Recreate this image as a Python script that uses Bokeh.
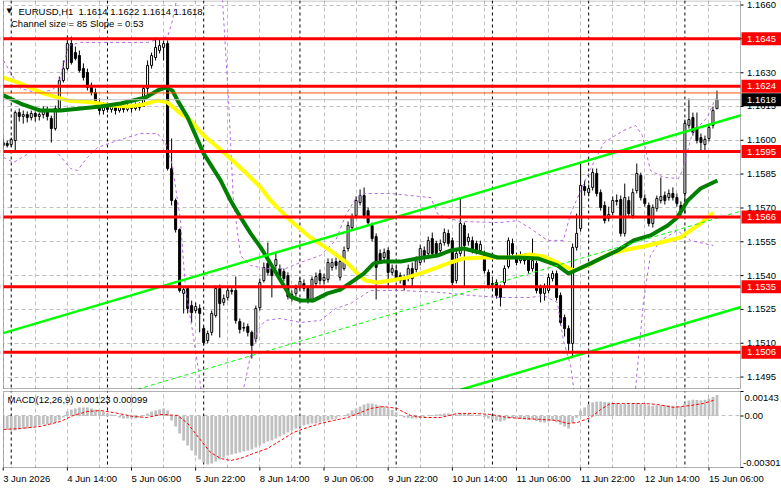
from bokeh.plotting import figure
from bokeh.models import Range1d, Label, Span, FixedTicker, ColumnDataSource, BoxAnnotation
from bokeh.layouts import column
from bokeh.embed import file_html
from bokeh.resources import INLINE

# ---------------- data (EURUSD H1, bar index 0 = 3 Jun 22:00) ----------------
opens = [1.15990,1.15986,1.15981,1.15999,1.16123,1.16106,1.16114,1.16101,1.16119,1.16106,
1.16114,1.16132,1.16097,1.16052,1.16141,1.16265,1.16318,1.16429,1.16389,1.16376,
1.16318,1.16301,1.16239,1.16212,1.16168,1.16132,1.16150,1.16137,1.16150,1.16132,
1.16145,1.16137,1.16150,1.16141,1.16154,1.16150,1.16230,1.16332,1.16367,1.16398,
1.16412,1.16429,1.15875,1.15733,1.15604,1.15321,1.15343,1.15267,1.15245,1.15254,
1.15165,1.15112,1.15148,1.15223,1.15343,1.15281,1.15303,1.15334,1.15334,1.15196,
1.15170,1.15174,1.15148,1.15121,1.15258,1.15378,1.15454,1.15431,1.15445,1.15431,
1.15418,1.15400,1.15303,1.15321,1.15352,1.15365,1.15343,1.15289,1.15365,1.15409,
1.15378,1.15383,1.15436,1.15462,1.15392,1.15431,1.15520,1.15613,1.15666,1.15724,
1.15755,1.15688,1.15622,1.15573,1.15498,1.15480,1.15511,1.15414,1.15422,1.15400,
1.15392,1.15387,1.15431,1.15427,1.15458,1.15511,1.15498,1.15564,1.15542,1.15511,
1.15547,1.15587,1.15555,1.15378,1.15498,1.15622,1.15551,1.15555,1.15542,1.15511,
1.15498,1.15414,1.15365,1.15369,1.15347,1.15369,1.15440,1.15542,1.15489,1.15466,
1.15480,1.15480,1.15431,1.15454,1.15347,1.15321,1.15334,1.15387,1.15409,1.15312,
1.15214,1.15165,1.15099,1.15525,1.15609,1.15795,1.15768,1.15791,1.15853,1.15768,
1.15711,1.15653,1.15680,1.15733,1.15737,1.15587,1.15733,1.15666,1.15777,1.15844,
1.15742,1.15711,1.15631,1.15698,1.15733,1.15755,1.15746,1.15764,1.15746,1.15711,
1.15764,1.16066,1.16101,1.16057,1.16012,1.15981,1.16008,1.16066,1.16140]
highs = [1.16008,1.15999,1.16012,1.16132,1.16141,1.16132,1.16128,1.16132,1.16128,1.16123,
1.16150,1.16150,1.16110,1.16154,1.16283,1.16354,1.16465,1.16460,1.16416,1.16398,
1.16341,1.16318,1.16256,1.16230,1.16185,1.16168,1.16163,1.16163,1.16159,1.16163,
1.16159,1.16163,1.16163,1.16168,1.16168,1.16243,1.16354,1.16389,1.16456,1.16451,
1.16443,1.16443,1.16008,1.15742,1.15609,1.15352,1.15352,1.15289,1.15281,1.15272,
1.15174,1.15156,1.15245,1.15356,1.15360,1.15316,1.15352,1.15352,1.15396,1.15210,
1.15192,1.15187,1.15156,1.15267,1.15387,1.15458,1.15547,1.15445,1.15502,1.15449,
1.15431,1.15414,1.15334,1.15360,1.15391,1.15383,1.15356,1.15396,1.15414,1.15427,
1.15409,1.15476,1.15476,1.15480,1.15480,1.15529,1.15640,1.15675,1.15751,1.15782,
1.15791,1.15702,1.15635,1.15587,1.15516,1.15520,1.15525,1.15449,1.15440,1.15414,
1.15405,1.15449,1.15458,1.15485,1.15538,1.15529,1.15573,1.15591,1.15555,1.15560,
1.15609,1.15604,1.15569,1.15511,1.15742,1.15635,1.15587,1.15573,1.15555,1.15555,
1.15511,1.15427,1.15383,1.15383,1.15360,1.15445,1.15569,1.15564,1.15502,1.15507,
1.15498,1.15494,1.15564,1.15466,1.15360,1.15365,1.15409,1.15422,1.15422,1.15325,
1.15227,1.15179,1.15542,1.15675,1.15902,1.15821,1.15804,1.15875,1.15875,1.15782,
1.15729,1.15706,1.15751,1.15760,1.15755,1.15808,1.15751,1.15786,1.15897,1.15857,
1.15760,1.15724,1.15715,1.15755,1.15835,1.15773,1.15782,1.15791,1.15764,1.15729,
1.16092,1.16185,1.16123,1.16123,1.16030,1.16021,1.16070,1.16150,1.16220]
lows = [1.15964,1.15968,1.15972,1.15955,1.16083,1.16074,1.16079,1.16088,1.16083,1.16088,
1.16097,1.16088,1.15990,1.16043,1.16132,1.16256,1.16310,1.16336,1.16354,1.16301,
1.16265,1.16221,1.16199,1.16150,1.16114,1.16114,1.16123,1.16123,1.16114,1.16123,
1.16123,1.16128,1.16123,1.16132,1.16132,1.16150,1.16199,1.16318,1.16354,1.16385,
1.16354,1.15866,1.15711,1.15591,1.15325,1.15232,1.15232,1.15192,1.15232,1.15148,
1.15090,1.15099,1.15134,1.15214,1.15125,1.15267,1.15289,1.15316,1.15187,1.15143,
1.15152,1.15130,1.15032,1.15103,1.15245,1.15369,1.15400,1.15303,1.15431,1.15383,
1.15374,1.15294,1.15285,1.15307,1.15338,1.15330,1.15276,1.15281,1.15352,1.15360,
1.15360,1.15369,1.15422,1.15427,1.15378,1.15422,1.15507,1.15600,1.15653,1.15711,
1.15653,1.15622,1.15551,1.15294,1.15454,1.15466,1.15347,1.15400,1.15374,1.15365,
1.15334,1.15374,1.15352,1.15414,1.15445,1.15458,1.15485,1.15485,1.15485,1.15498,
1.15533,1.15529,1.15356,1.15365,1.15485,1.15347,1.15533,1.15498,1.15494,1.15498,
1.15409,1.15343,1.15343,1.15298,1.15263,1.15356,1.15431,1.15485,1.15445,1.15454,
1.15449,1.15409,1.15418,1.15321,1.15281,1.15289,1.15321,1.15374,1.15289,1.15179,
1.15130,1.15067,1.15040,1.15511,1.15595,1.15755,1.15751,1.15777,1.15751,1.15688,
1.15631,1.15640,1.15666,1.15711,1.15573,1.15573,1.15662,1.15653,1.15764,1.15733,
1.15706,1.15618,1.15613,1.15684,1.15720,1.15715,1.15733,1.15733,1.15706,1.15658,
1.15675,1.16052,1.16021,1.15986,1.15955,1.15955,1.15995,1.16052,1.16140]
closes = [1.15977,1.15977,1.16004,1.16123,1.16106,1.16114,1.16101,1.16119,1.16106,1.16114,
1.16132,1.16106,1.16052,1.16141,1.16265,1.16318,1.16429,1.16345,1.16363,1.16310,
1.16279,1.16234,1.16212,1.16163,1.16132,1.16150,1.16137,1.16150,1.16132,1.16145,
1.16137,1.16150,1.16141,1.16154,1.16145,1.16230,1.16332,1.16376,1.16412,1.16420,
1.16429,1.15875,1.15733,1.15604,1.15334,1.15338,1.15254,1.15236,1.15263,1.15232,
1.15103,1.15143,1.15232,1.15343,1.15276,1.15298,1.15334,1.15330,1.15201,1.15161,
1.15167,1.15148,1.15090,1.15254,1.15369,1.15436,1.15414,1.15400,1.15471,1.15396,
1.15387,1.15307,1.15316,1.15343,1.15374,1.15343,1.15289,1.15383,1.15396,1.15378,
1.15392,1.15458,1.15458,1.15445,1.15462,1.15511,1.15622,1.15658,1.15733,1.15755,
1.15666,1.15635,1.15564,1.15436,1.15466,1.15502,1.15414,1.15431,1.15387,1.15378,
1.15347,1.15431,1.15387,1.15466,1.15520,1.15476,1.15555,1.15498,1.15498,1.15542,
1.15591,1.15542,1.15369,1.15498,1.15631,1.15533,1.15569,1.15511,1.15511,1.15538,
1.15422,1.15356,1.15360,1.15312,1.15303,1.15431,1.15555,1.15498,1.15458,1.15489,
1.15466,1.15422,1.15466,1.15334,1.15321,1.15347,1.15392,1.15409,1.15303,1.15192,
1.15165,1.15099,1.15525,1.15587,1.15800,1.15777,1.15786,1.15857,1.15764,1.15702,
1.15644,1.15671,1.15733,1.15729,1.15587,1.15746,1.15675,1.15768,1.15853,1.15746,
1.15720,1.15631,1.15702,1.15742,1.15751,1.15733,1.15764,1.15746,1.15720,1.15680,
1.16075,1.16092,1.16035,1.15999,1.15990,1.16004,1.16057,1.16132,1.16180]

# moving averages (bar index, price)
ma_slow_x = [0.07,4.3,10.0,16.0,22.5,26.8,31.0,35.0,38.5,41.0,44.2,46.7,50.0,55.0,59.9,64.2,66.7,71.6,76.6,81.6,
             85.9,88.4,90.3,93.3,96.6,100.8,104.8,108.3,111.5,114.8,119.8,123.3,126.5,129.8,131.5,134.7,138.2,
             140.7,142.2,145.7,151.4,155.7,159.7,163.9,168.9,173.9,177.1]
ma_slow_y = [1.16278,1.16252,1.16208,1.16177,1.16168,1.16154,1.16150,1.16159,1.16177,1.16168,1.16119,1.16088,
             1.16021,1.15946,1.15866,1.15791,1.15733,1.15644,1.15569,1.15511,1.15454,1.15409,1.15378,1.15369,
             1.15378,1.15392,1.15414,1.15436,1.15458,1.15476,1.15480,1.15480,1.15480,1.15489,1.15494,1.15485,
             1.15458,1.15436,1.15422,1.15445,1.15498,1.15516,1.15529,1.15547,1.15569,1.15631,1.15680]
ma_fast_x = [0.07,4.3,9.3,14.3,19.3,24.3,29.3,35.5,38.5,40.5,42.2,43.5,46.0,50.0,54.2,56.7,59.2,61.7,64.2,65.9,
             69.2,71.6,74.1,77.4,80.9,84.1,87.4,89.9,92.4,94.8,99.1,103.3,108.3,111.5,114.8,119.8,123.3,128.3,
             133.3,138.2,141.0,143.2,146.5,149.0,153.2,157.2,161.4,165.7,168.1,170.7,173.9,178.1]
ma_fast_y = [1.16199,1.16163,1.16132,1.16132,1.16141,1.16150,1.16163,1.16190,1.16221,1.16234,1.16221,1.16176,
             1.16101,1.15941,1.15822,1.15733,1.15658,1.15587,1.15525,1.15476,1.15378,1.15307,1.15290,1.15290,
             1.15321,1.15338,1.15378,1.15409,1.15454,1.15462,1.15462,1.15476,1.15489,1.15511,1.15520,1.15498,
             1.15480,1.15480,1.15476,1.15445,1.15409,1.15427,1.15454,1.15476,1.15511,1.15556,1.15578,1.15622,
             1.15658,1.15733,1.15786,1.15822]

# bands (purple dashed)
band_up_x = [0.07,2.3,4.3,8.1,11.8,13.8,15.0,16.3,19.3,24.3,29.3,36.0,39.2,41.0,42.2,43.2,44.2,52.9,54.7,56.2,
             57.4,59.2,61.7,65.4,70.4,74.1,79.1,82.9,85.4,87.9,89.9,96.6,106.6,108.3,110.3,114.0,124.0,128.3,
             131.5,135.7,139.7,141.5,144.0,146.5,149.7,151.4,154.7,157.7,159.4,161.4,164.7,168.4,169.4,171.9,
             175.6,177.6]
band_up_y = [1.16354,1.16287,1.16230,1.16212,1.16221,1.16243,1.16332,1.16420,1.16434,1.16434,1.16434,1.16434,
             1.16451,1.16460,1.16531,1.16620,1.16797,1.16797,1.16620,1.16176,1.15733,1.15489,1.15445,1.15431,
             1.15431,1.15458,1.15489,1.15556,1.15667,1.15742,1.15764,1.15764,1.15746,1.15675,1.15658,1.15640,
             1.15635,1.15644,1.15609,1.15556,1.15556,1.15675,1.15777,1.15875,1.15986,1.16008,1.16043,1.16066,
             1.16021,1.15866,1.15835,1.15831,1.15866,1.16035,1.16101,1.16185]
band_lo_x = [0.07,2.6,7.6,13.5,16.8,18.5,21.0,23.5,28.5,34.2,38.5,40.5,42.2,44.2,45.5,47.2,48.7,49.7,59.2,60.4,
             61.7,63.4,65.4,69.2,74.1,79.1,82.9,86.6,91.6,99.1,109.1,116.5,124.0,131.5,134.7,138.2,139.7,141.5,
             142.7,155.2,157.7,159.7,161.4,163.9,168.1,171.4,177.1]
band_lo_y = [1.15924,1.15902,1.15955,1.15946,1.15875,1.15866,1.15924,1.15968,1.15999,1.16030,1.16030,1.15986,
             1.15888,1.15644,1.15334,1.15156,1.14979,1.14846,1.14846,1.14935,1.15046,1.15156,1.15201,1.15210,
             1.15192,1.15201,1.15254,1.15276,1.15334,1.15334,1.15325,1.15312,1.15303,1.15303,1.15312,1.15281,
             1.15112,1.15001,1.14846,1.14846,1.14899,1.15290,1.15489,1.15556,1.15600,1.15556,1.15533]

# regression channel
channel_x = [0, 184]
channel_upper = [1.15145, 1.16111]
channel_size = 0.0085

# horizontal levels
levels = [1.1645, 1.1624, 1.1595, 1.1566, 1.1535, 1.1506]
bid, ask = 1.1618, 1.1621
price_ticks = [1.1660, 1.1645, 1.1630, 1.1615, 1.1600, 1.1585, 1.1570, 1.1555, 1.1540, 1.1525, 1.1510, 1.1495]

# MACD(12,26,9)
macd_hist = [
-0.00073,-0.00079,-0.00085,-0.00085,-0.00079,-0.00073,-0.00073,-0.00067,-0.00061,-0.00056,
-0.00050,-0.00050,-0.00044,-0.00038,-0.00026,-0.00009,0.00026,0.00038,0.00044,0.00050,
0.00050,0.00050,0.00044,0.00038,0.00032,0.00026,0.00015,0.00009,0.00003,-0.00009,
-0.00015,-0.00015,-0.00015,-0.00015,-0.00009,0.00003,0.00015,0.00026,0.00032,0.00038,
0.00044,0.00032,-0.00026,-0.00061,-0.00102,-0.00143,-0.00172,-0.00202,-0.00231,-0.00254,
-0.00272,-0.00283,-0.00278,-0.00266,-0.00254,-0.00242,-0.00231,-0.00225,-0.00219,-0.00213,
-0.00207,-0.00202,-0.00196,-0.00184,-0.00172,-0.00161,-0.00149,-0.00143,-0.00131,-0.00120,
-0.00108,-0.00096,-0.00085,-0.00073,-0.00061,-0.00056,-0.00050,-0.00044,-0.00044,-0.00038,
-0.00032,-0.00026,-0.00020,-0.00015,-0.00003,0.00003,0.00015,0.00032,0.00044,0.00055,
0.00067,0.00073,0.00073,0.00067,0.00061,0.00055,0.00045,0.00035,0.00022,0.00005,
-0.00009,-0.00012,-0.00015,-0.00015,-0.00012,-0.00006,0.00003,0.00006,0.00009,0.00012,
0.00015,0.00015,0.00012,0.00009,0.00012,0.00012,0.00012,0.00009,0.00006,0.00003,
-0.00006,-0.00015,-0.00022,-0.00028,-0.00032,-0.00026,-0.00015,-0.00012,-0.00015,-0.00017,
-0.00020,-0.00024,-0.00022,-0.00030,-0.00036,-0.00038,-0.00032,-0.00030,-0.00036,-0.00050,
-0.00062,-0.00073,-0.00040,-0.00010,0.00030,0.00050,0.00068,0.00080,0.00085,0.00085,
0.00082,0.00080,0.00078,0.00075,0.00068,0.00070,0.00068,0.00070,0.00075,0.00072,
0.00068,0.00062,0.00060,0.00062,0.00063,0.00062,0.00062,0.00060,0.00058,0.00055,
0.00075,0.00090,0.00095,0.00093,0.00092,0.00095,0.00102,0.00112,0.00123]
signal_x = [0.07,4.3,9.3,14.3,17.5,21.0,24.3,27.5,32.5,36.0,39.2,43.5,46.0,49.3,51.7,54.2,56.7,59.2,62.4,65.9,
            69.2,72.4,75.9,79.1,82.4,85.9,89.1,91.6,94.8,98.3,99.1,101.6,104.8,109.1,113.3,117.3,121.5,125.8,
            129.8,134.0,138.2,140.7,143.2,146.5,149.0,151.4,154.7,159.7,163.2,167.2,171.4,174.6,177.1,177.6]
signal_y = [-0.00079,-0.00073,-0.00061,-0.00032,0.00003,0.00026,0.00032,0.00020,-0.00003,-0.00009,0.00009,
            0.00003,-0.00044,-0.00143,-0.00213,-0.00248,-0.00260,-0.00248,-0.00219,-0.00190,-0.00143,-0.00096,
            -0.00067,-0.00044,-0.00026,-0.00009,0.00020,0.00044,0.00055,0.00044,0.00032,0.00003,-0.00009,
            -0.00009,0.00015,0.00015,0.00009,-0.00009,-0.00015,-0.00020,-0.00026,-0.00044,-0.00038,-0.00009,
            0.00038,0.00073,0.00073,0.00073,0.00067,0.00050,0.00061,0.00073,0.00091,0.00099]
macd_min, macd_max = -0.00301, 0.00143
macd_ticks = [0.00143, 0.0, -0.00301]

# time axis
tick_idx = [0, 16, 32, 48, 64, 80, 96, 112, 128, 144, 160, 176]
tick_labels = ["3 Jun 2026", "4 Jun 14:00", "5 Jun 06:00", "5 Jun 22:00", "8 Jun 14:00", "9 Jun 06:00",
               "9 Jun 22:00", "10 Jun 14:00", "11 Jun 06:00", "11 Jun 22:00", "12 Jun 14:00", "15 Jun 06:00"]
day_starts = [2, 26, 50, 74, 98, 122, 146, 170]

# ---------------- geometry helpers (pixel <-> data) ----------------
BAR_PX = 4.01
def px_to_idx(px):
    return (px - 2.7) / BAR_PX

PRICE_PX = 0.00004435
def py_to_price(py):
    return 1.16620 - py * PRICE_PX

MPX = (macd_max - macd_min) / 76.0          # MACD units per pixel
def my_to_val(local_py):                      # local y inside the MACD figure (0 = its top)
    return macd_max - (local_py - 2) * MPX

PANEL_L, PANEL_R = px_to_idx(3), px_to_idx(740)
FONT = "Liberation Sans"
FS = "9.5px"
GRID = "#C0C0C0"
PURPLE = "#B469E6"
LIME = "#00FF00"

n = len(closes)
idx = list(range(n))
src = ColumnDataSource(dict(
    x=idx, h=highs, l=lows,
    top=[max(o, c) for o, c in zip(opens, closes)],
    bot=[min(o, c) for o, c in zip(opens, closes)],
    fill=["white" if c >= o else "black" for o, c in zip(opens, closes)],
))

xr = Range1d(px_to_idx(0), px_to_idx(781))

def label(fig, x, y, text, **kw):
    args = dict(text_font=FONT, text_font_size=FS, text_color="black",
                text_baseline="middle", text_align="left")
    args.update(kw)
    fig.add_layout(Label(x=x, y=y, text=text, **args))

# ================= main price panel =================
p = figure(width=781, height=389, x_range=xr, y_range=Range1d(py_to_price(389), py_to_price(0)),
           output_backend="svg", toolbar_location=None, x_axis_location=None, y_axis_location=None,
           min_border_left=0, min_border_right=0, min_border_top=0, min_border_bottom=0)
p.outline_line_color = None
p.xgrid.ticker = FixedTicker(ticks=list(range(0, 184, 8)))
p.ygrid.ticker = FixedTicker(ticks=price_ticks)
for g in (p.xgrid, p.ygrid):
    g.grid_line_color = GRID
    g.grid_line_dash = "4 3"

for d in day_starts:
    p.add_layout(Span(location=d, dimension="height", line_color="black", line_dash="3 3",
                      line_width=1, level="underlay"))

# candles
p.segment(x0="x", y0="h", x1="x", y1="l", line_color="black", line_width=1, source=src)
p.vbar(x="x", width=0.5, top="top", bottom="bot", fill_color="fill", line_color="black",
       line_width=1, source=src)

# indicators
p.line(band_up_x, band_up_y, line_color=PURPLE, line_dash="3 3", line_width=1)
p.line(band_lo_x, band_lo_y, line_color=PURPLE, line_dash="3 3", line_width=1)
p.line(ma_slow_x, ma_slow_y, line_color="#FFFF00", line_width=4)
p.line(ma_fast_x, ma_fast_y, line_color="#008000", line_width=4)

# channel
ch_lower = [u - channel_size for u in channel_upper]
ch_mid = [u - channel_size / 2 for u in channel_upper]
p.line(channel_x, channel_upper, line_color=LIME, line_width=2.5)
p.line(channel_x, ch_lower, line_color=LIME, line_width=2.5)
p.line(channel_x, ch_mid, line_color=LIME, line_width=1, line_dash="4 3")

# bid / ask and levels
p.add_layout(Span(location=bid, dimension="width", line_color="#C0C0C0", line_width=1))
p.add_layout(Span(location=ask, dimension="width", line_color="#FF5A00", line_width=1))
for lv in levels:
    p.add_layout(Span(location=lv, dimension="width", line_color="#FF0000", line_width=3))

# margins (price scale area) and frame border
p.add_layout(BoxAnnotation(left=PANEL_R, fill_color="white", fill_alpha=1, line_color=None))
p.add_layout(BoxAnnotation(right=PANEL_L, fill_color="white", fill_alpha=1, line_color=None))
p.add_layout(BoxAnnotation(left=PANEL_L, right=PANEL_R, top=py_to_price(0.5), bottom=py_to_price(388),
                           fill_alpha=0, line_color="black", line_width=1))
for t in price_ticks:
    p.add_layout(BoxAnnotation(left=PANEL_R, right=px_to_idx(743), top=t + PRICE_PX * 0.5,
                               bottom=t - PRICE_PX * 0.5, fill_color="black", fill_alpha=1, line_color=None))

LX = px_to_idx(746.5)
for t in price_ticks:
    if any(abs(t - lv) < 1e-6 for lv in levels):
        continue
    label(p, LX, t, f"{t:.4f}")

def tag(value, color):
    p.add_layout(BoxAnnotation(left=px_to_idx(741), right=px_to_idx(781), top=value + 6.5 * PRICE_PX,
                               bottom=value - 6.5 * PRICE_PX, fill_color=color, fill_alpha=1,
                               line_color=None))
    label(p, LX, value, f"{value:.4f}", text_color="white")

for lv in levels:
    tag(lv, "#FF0000")
tag(bid, "black")

# header texts
label(p, px_to_idx(6), py_to_price(10.5), "\u25BC", text_font="DejaVu Sans", text_font_size="7px")
label(p, px_to_idx(18), py_to_price(10.7), "EURUSD,H1")
label(p, px_to_idx(78), py_to_price(10.7), "1.1614 1.1622 1.1614 1.1618")
label(p, px_to_idx(10.5), py_to_price(23.3), "Channel size = 85 Slope = 0.53")

# ================= MACD panel =================
q = figure(width=781, height=100, x_range=xr, y_range=Range1d(my_to_val(100), my_to_val(0)),
           output_backend="svg", toolbar_location=None, x_axis_location=None, y_axis_location=None,
           min_border_left=0, min_border_right=0, min_border_top=0, min_border_bottom=0)
q.outline_line_color = None
q.xgrid.ticker = FixedTicker(ticks=list(range(0, 184, 8)))
q.ygrid.ticker = FixedTicker(ticks=[0.0])
for g in (q.xgrid, q.ygrid):
    g.grid_line_color = GRID
    g.grid_line_dash = "4 3"
for d in day_starts:
    q.add_layout(Span(location=d, dimension="height", line_color="black", line_dash="3 3",
                      line_width=1, level="underlay"))
q.vbar(x=idx, top=macd_hist, bottom=0, width=0.7, fill_color="#C0C0C0", line_color=None)
q.line(signal_x, signal_y, line_color="#FF0000", line_width=1, line_dash="3 2")

q.add_layout(BoxAnnotation(left=PANEL_R, fill_color="white", fill_alpha=1, line_color=None))
q.add_layout(BoxAnnotation(right=PANEL_L, fill_color="white", fill_alpha=1, line_color=None))
q.add_layout(BoxAnnotation(top=macd_min, fill_color="white", fill_alpha=1, line_color=None))
q.add_layout(BoxAnnotation(bottom=macd_max, fill_color="white", fill_alpha=1, line_color=None))
q.add_layout(BoxAnnotation(left=PANEL_L, right=PANEL_R, top=macd_max, bottom=macd_min,
                           fill_alpha=0, line_color="black", line_width=1))
for t in tick_idx:
    q.add_layout(BoxAnnotation(left=t - 0.12, right=t + 0.12, top=macd_min, bottom=macd_min - 3 * MPX,
                               fill_color="black", fill_alpha=1, line_color=None))
for v in macd_ticks:
    q.add_layout(BoxAnnotation(left=PANEL_R, right=px_to_idx(743), top=v + MPX * 0.5,
                               bottom=v - MPX * 0.5, fill_color="black", fill_alpha=1, line_color=None))

label(q, px_to_idx(7), my_to_val(10.3), "MACD(12,26,9) 0.00123 0.00099")
label(q, px_to_idx(744), my_to_val(8), "0.00143")
label(q, px_to_idx(744), 0.0, "0.00")
label(q, px_to_idx(742.5), my_to_val(73), "-0.00301")
for t, lab in zip(tick_idx, tick_labels):
    label(q, t, my_to_val(89), lab)

layout = column(p, q, spacing=0)
open("out.html", "w").write(file_html(layout, INLINE))
